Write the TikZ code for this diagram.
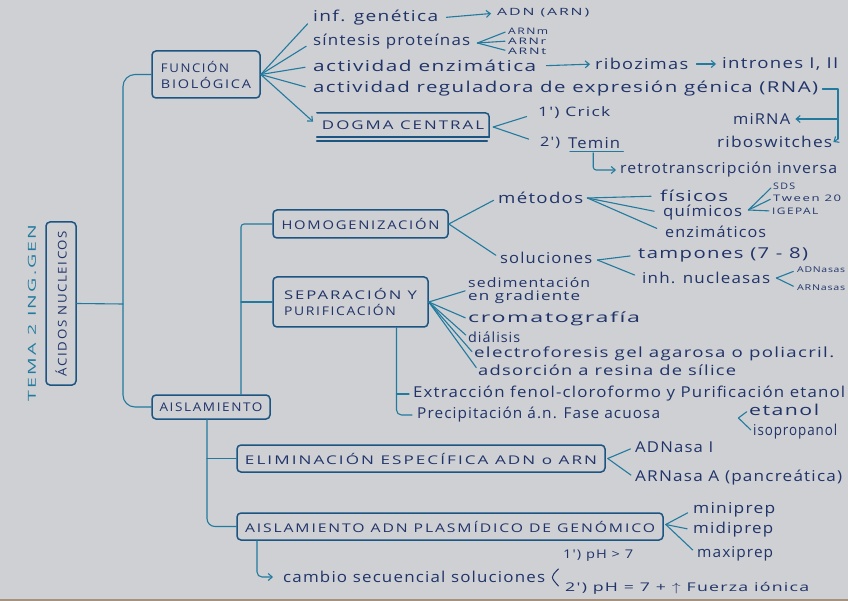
\documentclass[tikz,border=0pt]{standalone}
\usepackage{fontspec}
\usepackage{graphicx}
\setmainfont{Open Sans}
\newfontfamily\hand[LetterSpace=7]{Open Sans}
\newfontfamily\capsf[LetterSpace=12]{Open Sans}
\usetikzlibrary{arrows.meta,calc}
\definecolor{paper}{RGB}{207,208,212}
\definecolor{ink}{RGB}{32,52,105}
\definecolor{lineblue}{RGB}{34,122,158}
\definecolor{boxc}{RGB}{28,85,130}
\newcommand\fitw[2]{\resizebox{#1pt}{\height}{#2}}
\begin{document}
\begin{tikzpicture}[x=1pt,y=-1pt,
  conn/.style={draw=lineblue, line width=1.1pt, line cap=round, line join=round},
  arr/.style={conn, -{Straight Barb[length=4pt,width=7pt]}},
  txt/.style={inner sep=0pt, anchor=west, text=ink, font=\hand\fontsize{15}{15}\selectfont},
  sm/.style={txt, font=\capsf\fontsize{9}{9}\selectfont},
  mid/.style={txt, font=\hand\fontsize{13}{13}\selectfont},
  box/.style={draw=boxc, line width=1.5pt, rounded corners=4pt, inner sep=0pt, text=ink, font=\capsf\fontsize{12}{16}\selectfont},
  bline/.style={draw=boxc, line width=1.5pt, line cap=round}]
\useasboundingbox (0,0) rectangle (848,601);
\fill[paper] (0,0) rectangle (848,601);
\fill[black!35!brown!50!paper] (0,599) rectangle (848,601);

% ---------- left ----------
\node[box, minimum width=163pt, minimum height=30pt, rotate=90] (acid) at (61,303.5) {\fitw{145}{ÁCIDOS NUCLEICOS}};
\node[rotate=90, inner sep=0pt, text=lineblue, font=\capsf\fontsize{11}{11}\selectfont] (tema) at (32,313) {\fitw{177}{TEMA 2 ING.GEN}};

% ---------- boxes ----------
\node[box, minimum width=108pt, minimum height=47pt, align=left] (fun) at (206,74.5) {\fitw{68}{FUNCIÓN}\\\fitw{90}{BIOLÓGICA}};
\node[box, minimum width=118pt, minimum height=24pt] (aisl) at (211,407) {\fitw{103}{AISLAMIENTO}};
\node[box, minimum width=175pt, minimum height=28pt] (homog) at (360.5,224) {\fitw{158}{HOMOGENIZACIÓN}};
\node[box, minimum width=155pt, minimum height=50pt, align=left] (sep) at (350.5,302) {\fitw{133}{SEPARACIÓN Y}\\\fitw{112}{PURIFICACIÓN}};
\node[box, minimum width=368pt, minimum height=27pt] (elim) at (421,458.5) {\fitw{352}{ELIMINACIÓN ESPECÍFICA ADN o ARN}};
\node[box, minimum width=426pt, minimum height=27pt] (aisladn) at (450,526.5) {\fitw{410}{AISLAMIENTO ADN PLASMÍDICO DE GENÓMICO}};
\node[inner sep=0pt, minimum width=172pt, minimum height=24pt, text=ink, font=\capsf\fontsize{12}{12}\selectfont] (dogma) at (403,125) {\fitw{162}{DOGMA CENTRAL}};
\draw[bline, rounded corners=4pt] (dogma.north west) -- (dogma.north east) -- (dogma.south east);
\draw[bline] (dogma.south west) -- (dogma.south east);
\draw[bline] ($(dogma.south west)+(0,4)$) -- ($(dogma.south east)+(-2,4)$);

% ---------- texts: función biológica ----------
\node[txt] (infgen) at (313,18) {\fitw{125}{inf. genética}};
\node[txt] (sint) at (313,42) {\fitw{157}{síntesis proteínas}};
\node[txt] (actenz) at (313,66) {\fitw{223}{actividad enzimática}};
\node[txt] (actreg) at (313,89) {\fitw{505}{actividad reguladora de expresión génica (RNA)}};
\node[txt, font=\capsf\fontsize{10}{10}\selectfont] (adn) at (497,13) {\fitw{92}{ADN (ARN)}};
\node[sm] (arnm) at (508,31) {\fitw{40}{ARNm}};
\node[sm] (arnr) at (508,41) {\fitw{38}{ARNr}};
\node[sm] (arnt) at (508,51) {\fitw{38}{ARNt}};
\node[txt] (riboz) at (595,64) {\fitw{93}{ribozimas}};
\node[txt] (intr) at (722,64) {\fitw{116}{intrones I, II}};
\node[txt] (mirna) at (733,119) {\fitw{57}{miRNA}};
\node[txt] (ribosw) at (717,142) {\fitw{115}{riboswitches}};
\node[mid] (crick) at (538,113) {\fitw{72}{1') Crick}};
\node[mid] (t2) at (540,143) {\fitw{20}{2')}};
\node[txt] (temin) at (568,143) {\fitw{52}{Temin}};
\node[txt] (retro) at (620,170) {\fitw{217}{retrotranscripción inversa}};

% ---------- homogenización ----------
\node[txt] (metodos) at (498,198) {\fitw{85}{métodos}};
\node[txt] (soluc) at (500,258) {\fitw{92}{soluciones}};
\node[txt] (fis) at (660,196) {\fitw{68}{físicos}};
\node[txt] (quim) at (663,213) {\fitw{79}{químicos}};
\node[txt] (enz) at (665,232) {\fitw{101}{enzimáticos}};
\node[sm] (sds) at (773,186) {\fitw{22}{SDS}};
\node[sm] (tween) at (773,198) {\fitw{68}{Tween 20}};
\node[sm] (igepal) at (772,211) {\fitw{46}{IGEPAL}};
\node[txt] (tamp) at (638,255) {\fitw{170}{tampones (7 - 8)}};
\node[txt] (inh) at (642,278) {\fitw{128}{inh. nucleasas}};
\node[sm, font=\hand\fontsize{8}{8}\selectfont] (adnasas) at (797,270) {\fitw{48}{ADNasas}};
\node[sm, font=\hand\fontsize{8}{8}\selectfont] (arnasas) at (797,288) {\fitw{48}{ARNasas}};

% ---------- separación ----------
\node[txt, font=\hand\fontsize{13}{13}\selectfont] (sedi) at (468,283) {\fitw{122}{sedimentación}};
\node[txt, font=\hand\fontsize{13}{13}\selectfont] (engr) at (468,297) {\fitw{112}{en gradiente}};
\node[txt, font=\hand\fontsize{14}{14}\selectfont] (crom) at (468,319) {\fitw{172}{cromatografía}};
\node[txt, font=\hand\fontsize{14}{14}\selectfont] (dial) at (468,337) {\fitw{52}{diálisis}};
\node[txt, font=\hand\fontsize{14}{14}\selectfont] (elec) at (474,354) {\fitw{360}{electroforesis gel agarosa o poliacril.}};
\node[txt, font=\hand\fontsize{14}{14}\selectfont] (adso) at (478,370) {\fitw{258}{adsorción a resina de sílice}};
\node[txt] (extr) at (413,394) {\fitw{432}{Extracción fenol-cloroformo y Purificación etanol}};
\node[txt] (prec) at (417,415) {\fitw{243}{Precipitación á.n. Fase acuosa}};
\node[txt] (etanol) at (749,410) {\fitw{70}{etanol}};
\node[txt] (isop) at (753,432) {\fitw{84}{isopropanol}};

% ---------- eliminación / aislamiento ADN ----------
\node[txt] (adnasa1) at (635,447) {\fitw{78}{ADNasa I}};
\node[txt] (arnasaA) at (635,478) {\fitw{207}{ARNasa A (pancreática)}};
\node[txt] (mini) at (693,510) {\fitw{82}{miniprep}};
\node[txt] (midi) at (693,530) {\fitw{80}{midiprep}};
\node[txt] (maxi) at (697,554) {\fitw{76}{maxiprep}};
\node[txt] (cambio) at (283,577) {\fitw{262}{cambio secuencial soluciones}};
\node[mid, font=\hand\fontsize{12}{12}\selectfont] (ph1) at (563,556) {\fitw{70}{1') pH > 7}};
\node[mid, font=\hand\fontsize{12}{12}\selectfont] (ph2) at (565,588) {\fitw{244}{2') pH = 7 + $\uparrow$ Fuerza iónica}};

% ---------- trunks ----------
\coordinate (tr) at (123,304);
\draw[conn] (acid.south) -- (tr);
\draw[conn, rounded corners=12pt] (fun.west) -| (tr) |- (aisl.west);
\coordinate (a2) at ($(aisl.north)+(30,0)$);
\draw[conn, rounded corners=3pt] (a2) |- (homog.west);
\draw[conn] (a2 |- sep.west) -- (sep.west);
\coordinate (a3) at ($(aisl.south)+(-4,0)$);
\draw[conn, rounded corners=8pt] (a3) |- (aisladn.west);
\draw[conn] (a3 |- elim.west) -- (elim.west);

% ---------- función fan ----------
\foreach \n in {infgen,sint,actenz,actreg}
  \draw[conn, shorten >=8pt] (fun.east) -- (\n.west);
\draw[arr, shorten >=5pt] (fun.east) -- (dogma.west);
\draw[arr, shorten <=8pt, shorten >=6pt] (infgen.east) -- (adn.west);
\coordinate (ka) at ($(sint.east)+(7,1)$);
\foreach \n in {arnm,arnr,arnt} \draw[conn, shorten >=3pt] (ka) -- (\n.west);
\draw[arr, shorten <=10pt, shorten >=5pt] (actenz.east) -- (riboz.west);
\draw[arr, shorten <=8pt, shorten >=6pt] (riboz.east) -- (intr.west);
\coordinate (r1) at (838,89);
\coordinate (r2) at (838,139);
\draw[conn] ($(actreg.east)+(4,0)$) -- (r1) -- (r2);
\draw[arr] (r2) -- ($(ribosw.east)+(1,0)$);
\draw[arr, shorten >=5pt] (r1 |- mirna.east) -- (mirna.east);
% dogma
\coordinate (kd) at ($(dogma.east)+(4,2)$);
\draw[conn, shorten >=12pt] (kd) -- (crick.west);
\draw[conn, shorten >=12pt] (kd) -- (t2.west);
\draw[conn] ($(temin.south west)+(2,3)$) -- ($(temin.south east)+(3,3)$);
\coordinate (tm) at ($(temin.south)+(-1,4)$);
\draw[arr, rounded corners=3pt, shorten >=4pt] (tm) |- (retro.west);

% ---------- homogenización ----------
\draw[conn, shorten >=5pt] (homog.east) -- (metodos.west);
\draw[conn, shorten >=5pt] (homog.east) -- (soluc.west);
\coordinate (km) at ($(metodos.east)+(4,0)$);
\foreach \n in {fis,quim,enz} \draw[conn, shorten >=9pt] (km) -- (\n.west);
\coordinate (kq) at ($(quim.east)+(6,-3)$);
\foreach \n in {sds,tween,igepal} \draw[conn, shorten >=3pt] (kq) -- (\n.west);
\coordinate (ks) at ($(soluc.east)+(5,2)$);
\foreach \n in {tamp,inh} \draw[conn, shorten >=8pt] (ks) -- (\n.west);
\coordinate (ki) at ($(inh.east)+(6,0)$);
\foreach \n in {adnasas,arnasas} \draw[conn, shorten >=4pt] (ki) -- (\n.west);

% ---------- separación ----------
\coordinate (sg) at ($(sedi.west)!0.5!(engr.west)$);
\draw[conn, shorten >=3pt] (sep.east) -- (sg);
\foreach \n in {crom,dial,elec,adso} \draw[conn, shorten >=3pt] (sep.east) -- (\n.west);
\coordinate (s1) at ($(sep.south)+(46,0)$);
\draw[conn, rounded corners=5pt, shorten >=5pt] (s1) |- (prec.west);
\draw[conn, shorten >=4pt] (s1 |- extr.west) -- (extr.west);
\coordinate (ke) at ($(prec.east)+(78,3)$);
\foreach \n in {etanol,isop} \draw[conn, shorten >=3pt] (ke) -- (\n.west);

% ---------- eliminación / aislamiento ADN ----------
\coordinate (kel) at ($(elim.east)+(2,0)$);
\foreach \n in {adnasa1,arnasaA} \draw[conn, shorten >=5pt] (kel) -- (\n.west);
\coordinate (kad) at ($(aisladn.east)+(2,-2)$);
\foreach \n in {mini,midi,maxi} \draw[conn, shorten >=6pt] (kad) -- (\n.west);
\coordinate (b1) at ($(aisladn.south)+(-193,0)$);
\draw[arr, rounded corners=5pt, shorten >=10pt] (b1) |- (cambio.west);
\draw[draw=ink, line width=1pt, line cap=round] ($(cambio.east)+(13,-8)$) .. controls ($(cambio.east)+(5,0)$) .. ($(cambio.east)+(13,9)$);
\end{tikzpicture}
\end{document}
